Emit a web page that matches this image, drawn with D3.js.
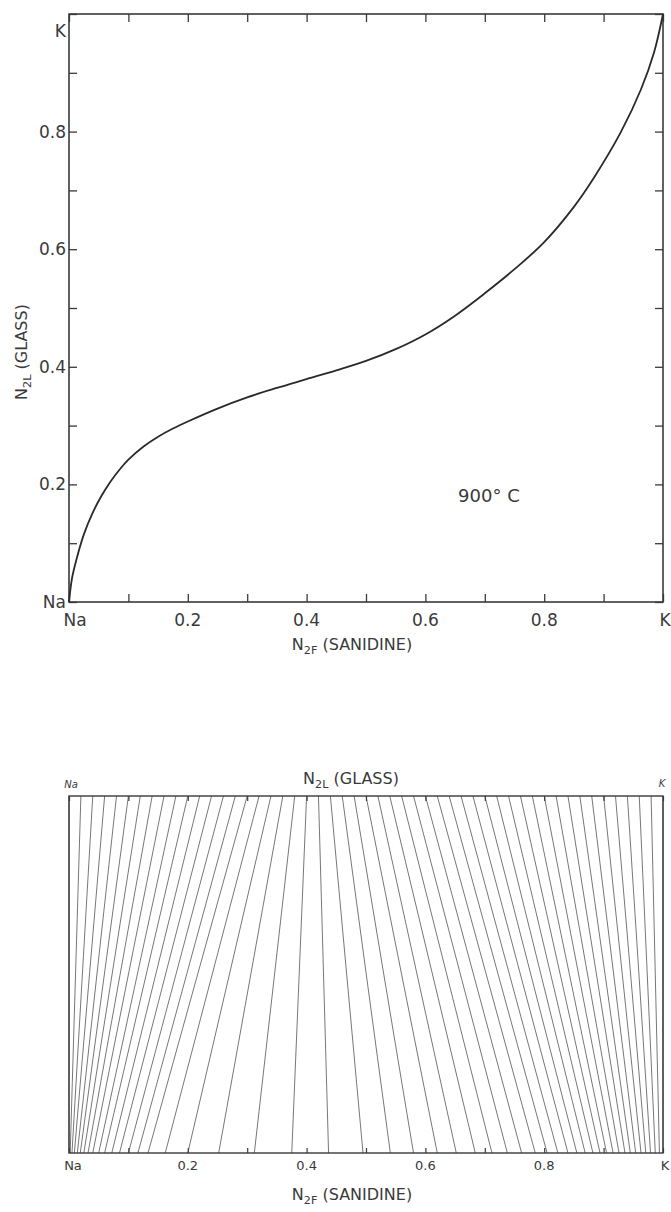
<!DOCTYPE html>
<html>
<head>
<meta charset="utf-8">
<script src="https://cdn.jsdelivr.net/npm/d3@7/dist/d3.min.js"></script>
<style>
  html, body { margin: 0; padding: 0; background: #fff; }
  svg { display: block; }
  text { font-family: "DejaVu Sans", sans-serif; fill: #3a3a3a; }
</style>
</head>
<body>
<script>
// Distribution of Na/K between sanidine (N2F) and glass (N2L) at 900 °C

// Partition curve: sanidine composition vs. coexisting glass composition
const curveN2F = [0, 0.005, 0.013, 0.025, 0.04, 0.055, 0.07, 0.085, 0.10, 0.125, 0.15, 0.175, 0.20, 0.25, 0.30, 0.35, 0.40,
                  0.45, 0.50, 0.55, 0.60, 0.65, 0.70, 0.75, 0.80, 0.85, 0.884, 0.929, 0.963, 0.985, 1.0];
const curveN2L = [0, 0.04, 0.074, 0.115, 0.152, 0.181, 0.205, 0.225, 0.242, 0.264, 0.281, 0.295, 0.307, 0.329, 0.348, 0.364, 0.379,
                  0.394, 0.410, 0.430, 0.455, 0.487, 0.525, 0.566, 0.612, 0.672, 0.722, 0.799, 0.872, 0.935, 1.0];

// Tie lines: glass composition (top edge) joined to sanidine composition (bottom edge)
const tieGlass = [0, 0.02, 0.04, 0.06, 0.08, 0.10, 0.12, 0.14, 0.16, 0.18, 0.20, 0.22, 0.24, 0.26, 0.28, 0.30,
                  0.32, 0.34, 0.36, 0.38, 0.40, 0.42, 0.44, 0.46, 0.48, 0.50, 0.52, 0.54, 0.56, 0.58, 0.60,
                  0.62, 0.64, 0.66, 0.68, 0.70, 0.72, 0.74, 0.76, 0.78, 0.80, 0.82, 0.84, 0.86, 0.88, 0.90,
                  0.92, 0.94, 0.96, 0.98, 1.0];
const tieSanidine = [0, 0.002, 0.005, 0.009, 0.014, 0.019, 0.025, 0.032, 0.04, 0.05, 0.06, 0.072, 0.085, 0.1, 0.116,
                     0.133, 0.162, 0.2, 0.252, 0.312, 0.375, 0.437, 0.495, 0.541, 0.58, 0.62, 0.652, 0.684, 0.712,
                     0.738, 0.762, 0.785, 0.805, 0.823, 0.84, 0.855, 0.869, 0.882, 0.894, 0.905, 0.916, 0.926,
                     0.936, 0.945, 0.954, 0.963, 0.971, 0.979, 0.987, 0.994, 1.0];

// Tick positions and labels
const tickValues = [0, 0.1, 0.2, 0.3, 0.4, 0.5, 0.6, 0.7, 0.8, 0.9, 1.0];
const labelTicks = [0, 0.2, 0.4, 0.6, 0.8, 1.0];
const tickLabels = ["Na", "0.2", "0.4", "0.6", "0.8", "K"];
const tempLabel = "900° C";

const W = 671, H = 1212;
const svg = d3.select("body").append("svg").attr("width", W).attr("height", H);
const ink = "#3a3a3a";

// ---------- Upper panel: partition curve ----------
const upper = { left: 69, right: 663, top: 14, bottom: 602 };
const x1 = d3.scaleLinear().domain([0, 1]).range([upper.left, upper.right]);
const y1 = d3.scaleLinear().domain([0, 1]).range([upper.bottom, upper.top]);
const g1 = svg.append("g");

// inward ticks on all four sides
const bx = g1.append("g").attr("transform", `translate(0,${upper.bottom})`)
  .call(d3.axisTop(x1).tickValues(tickValues).tickSize(8).tickFormat(""));
const tx = g1.append("g").attr("transform", `translate(0,${upper.top})`)
  .call(d3.axisBottom(x1).tickValues(tickValues).tickSize(8).tickFormat(""));
const ly = g1.append("g").attr("transform", `translate(${upper.left},0)`)
  .call(d3.axisRight(y1).tickValues(tickValues).tickSize(8).tickFormat(""));
const ry = g1.append("g").attr("transform", `translate(${upper.right},0)`)
  .call(d3.axisLeft(y1).tickValues(tickValues).tickSize(8).tickFormat(""));
[bx, tx, ly, ry].forEach(a => {
  a.select(".domain").remove();
  a.selectAll(".tick line").attr("stroke", ink).attr("stroke-width", 1.3);
});

// frame
g1.append("rect")
  .attr("x", x1(0)).attr("y", y1(1))
  .attr("width", x1(1) - x1(0)).attr("height", y1(0) - y1(1))
  .attr("fill", "none").attr("stroke", ink).attr("stroke-width", 1.6);

// tick labels
g1.selectAll("text.xl").data(labelTicks).join("text")
  .attr("class", "xl")
  .attr("x", d => x1(d) + (d === 0 ? 6 : d === 1 ? 2 : 0))
  .attr("y", upper.bottom + 24)
  .attr("text-anchor", "middle")
  .attr("font-size", 17)
  .text((d, i) => tickLabels[i]);
g1.selectAll("text.yl").data(labelTicks).join("text")
  .attr("class", "yl")
  .attr("x", upper.left - 3)
  .attr("y", d => y1(d) + 6 + (d === 1 ? 17 : 0))
  .attr("text-anchor", "end")
  .attr("font-size", 17)
  .text((d, i) => tickLabels[i]);

// axis titles with subscripts
function subTitle(g, x, y, main, sub, rest, size, rotate) {
  const t = g.append("text")
    .attr("text-anchor", "middle")
    .attr("font-size", size)
    .attr("transform", rotate ? `translate(${x},${y}) rotate(-90)` : `translate(${x},${y})`);
  t.append("tspan").text(main);
  t.append("tspan").attr("font-size", size * 0.7).attr("dy", size * 0.22).text(sub);
  t.append("tspan").attr("dy", -size * 0.22).text(rest);
  return t;
}
subTitle(g1, 352, 650, "N", "2F", " (SANIDINE)", 16, false);
subTitle(g1, 27, 352, "N", "2L", " (GLASS)", 16, true);

// temperature annotation
g1.append("text").attr("x", x1(0.655)).attr("y", y1(0.17))
  .attr("font-size", 18).text(tempLabel);

// the partition curve
const line = d3.line()
  .x((d, i) => x1(curveN2F[i]))
  .y((d, i) => y1(curveN2L[i]))
  .curve(d3.curveCatmullRom.alpha(0.5));
g1.append("path")
  .attr("d", line(curveN2F))
  .attr("fill", "none").attr("stroke", "#2a2a2a").attr("stroke-width", 1.8);

// ---------- Lower panel: tie lines ----------
const lower = { top: 796, bottom: 1153 };
const x2 = d3.scaleLinear().domain([0, 1]).range([upper.left, upper.right]);
const g2 = svg.append("g");

g2.selectAll("line.tie").data(tieGlass).join("line")
  .attr("class", "tie")
  .attr("x1", d => x2(d)).attr("y1", lower.top)
  .attr("x2", (d, i) => x2(tieSanidine[i])).attr("y2", lower.bottom)
  .attr("stroke", "#4a4a4a").attr("stroke-width", 0.75);

const b2 = g2.append("g").attr("transform", `translate(0,${lower.bottom})`)
  .call(d3.axisTop(x2).tickValues(tickValues).tickSize(5).tickFormat(""));
const t2 = g2.append("g").attr("transform", `translate(0,${lower.top})`)
  .call(d3.axisBottom(x2).tickValues(tickValues).tickSize(5).tickFormat(""));
[b2, t2].forEach(a => {
  a.select(".domain").remove();
  a.selectAll(".tick line").attr("stroke", ink).attr("stroke-width", 1.2);
});

g2.append("rect")
  .attr("x", x2(0)).attr("y", lower.top)
  .attr("width", x2(1) - x2(0)).attr("height", lower.bottom - lower.top)
  .attr("fill", "none").attr("stroke", ink).attr("stroke-width", 1.4);

g2.selectAll("text.bl").data(labelTicks).join("text")
  .attr("class", "bl")
  .attr("x", d => x2(d) + (d === 0 ? 4 : d === 1 ? 2 : 0))
  .attr("y", lower.bottom + 17)
  .attr("text-anchor", "middle")
  .attr("font-size", 13)
  .text((d, i) => tickLabels[i]);

g2.append("text").attr("x", x2(0) + 2).attr("y", lower.top - 8)
  .attr("text-anchor", "middle").attr("font-size", 10).attr("font-style", "italic").text("Na");
g2.append("text").attr("x", x2(1) - 1).attr("y", lower.top - 9)
  .attr("text-anchor", "middle").attr("font-size", 10).attr("font-style", "italic").text("K");

subTitle(g2, 351, 784, "N", "2L", " (GLASS)", 16, false);
subTitle(g2, 352, 1200, "N", "2F", " (SANIDINE)", 16, false);
</script>
</body>
</html>
